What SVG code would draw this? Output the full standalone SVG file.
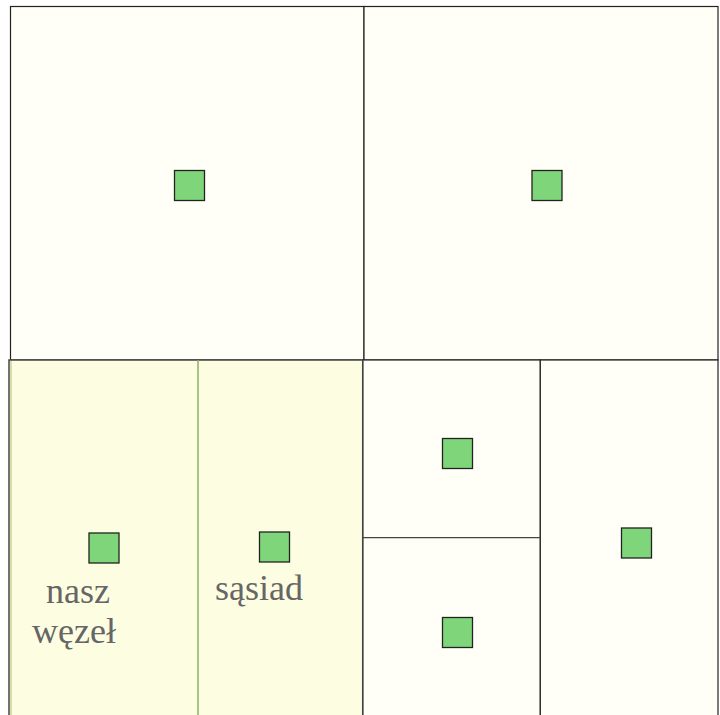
<svg xmlns="http://www.w3.org/2000/svg" width="720" height="715" viewBox="0 0 720 715">
<style>
.cell{fill:#fffff7;stroke:#222;stroke-width:1.2}
.hl{fill:#fdfde2;stroke:#444;stroke-width:1.5}
.node{fill:#7fd67a;stroke:#222;stroke-width:1.3}
.lbl{font-family:"Liberation Serif",serif;font-size:36px;fill:#666}
</style>
<rect width="720" height="715" fill="#ffffff"/>
<g id="cells">
<rect class="cell" x="10.5" y="6.5" width="353.5" height="353.5"/>
<rect class="cell" x="364" y="6.5" width="354" height="353.5"/>
<rect class="cell" x="362.7" y="360" width="177.6" height="358"/>
<rect class="cell" x="540.3" y="360" width="177.7" height="358"/>
<line x1="362.7" y1="537.7" x2="540.3" y2="537.7" stroke="#444" stroke-width="1.2"/>
<rect class="hl" x="9" y="360" width="353.7" height="360"/>
<line x1="11" y1="361" x2="11" y2="715" stroke="#c8d49a" stroke-width="1.5"/>
<line x1="198" y1="360" x2="198" y2="715" stroke="#8fae6a" stroke-width="1.5"/>
</g>
<g id="node-tl"><rect class="node" x="174.5" y="170.5" width="30" height="30"/></g>
<g id="node-tr"><rect class="node" x="532" y="170.5" width="30" height="30"/></g>
<g id="node-nasz"><rect class="node" x="89" y="533" width="30" height="30"/>
<text class="lbl" x="78" y="603" text-anchor="middle">nasz</text>
<text class="lbl" x="74" y="643" text-anchor="middle">węzeł</text></g>
<g id="node-sasiad"><rect class="node" x="259.5" y="532" width="30" height="30"/>
<text class="lbl" x="259" y="600" text-anchor="middle">sąsiad</text></g>
<g id="node-m1"><rect class="node" x="442.5" y="438.5" width="30" height="30"/></g>
<g id="node-m2"><rect class="node" x="442.5" y="617.5" width="30" height="30"/></g>
<g id="node-r"><rect class="node" x="621.5" y="528" width="30" height="30"/></g>
<g id="connectors"></g>
</svg>
